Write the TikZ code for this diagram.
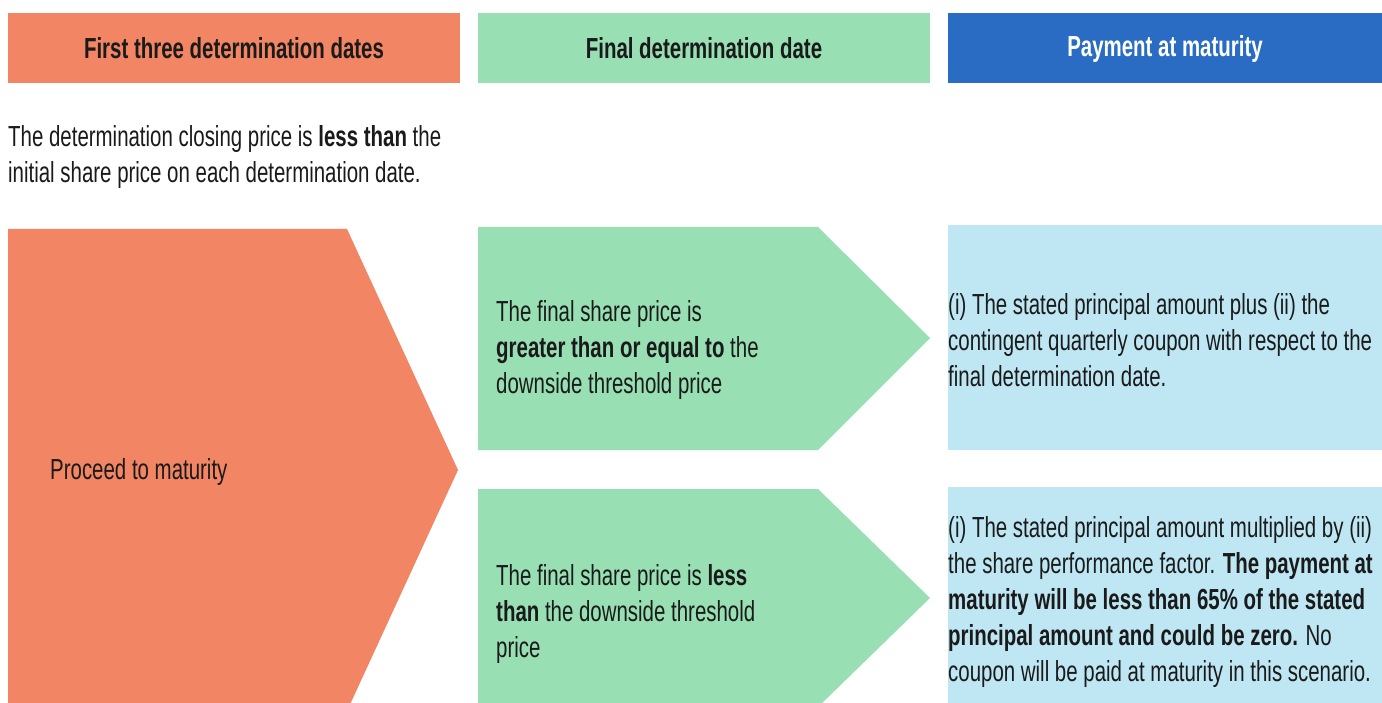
\documentclass[tikz,border=0pt]{standalone}
\usepackage{fontspec}
\setmainfont{Liberation Sans}[FakeStretch=0.705]
\definecolor{orangeC}{HTML}{F18564}
\definecolor{greenC}{HTML}{98E0B4}
\definecolor{blueC}{HTML}{2A6CC4}
\definecolor{lightC}{HTML}{BEE7F3}
\definecolor{inkC}{HTML}{1A1A1A}
\tikzset{
  hdr/.style={font=\fontsize{29}{32}\selectfont\bfseries, text=inkC, inner sep=0pt, anchor=center},
  bodytxt/.style={font=\fontsize{29}{36}\selectfont, text=inkC, inner sep=0pt, anchor=west, align=left},
}
\begin{document}
\begin{tikzpicture}[x=1pt,y=-1pt]
\useasboundingbox (0,0) rectangle (1382,703);
\fill[white] (0,0) rectangle (1382,703);
\clip (0,0) rectangle (1382,703);
% headers
\fill[orangeC] (8,13) rectangle (460,83);
\fill[greenC] (478,13) rectangle (930,83);
\fill[blueC] (948,13) rectangle (1382,83);
\node[hdr] (h1) at (234,48) {First three determination dates};
\node[hdr] (h2) at (704,48) {Final determination date};
\node[hdr, text=white] (h3) at (1165,49) {Payment at maturity};
% intro text
\node[bodytxt] (intro) at (8,157) {The determination closing price is \textbf{less than} the\\initial share price on each determination date.};
% orange chevron
\fill[orangeC] (8,229) -- (347,229) -- (458,470) -- (347,711) -- (8,711) -- cycle;
\node[bodytxt] (proceed) at (50,472) {Proceed to maturity};
% green chevrons
\fill[greenC] (478,227) -- (818,227) -- (930,338) -- (818,450) -- (478,450) -- cycle;
\fill[greenC] (478,489) -- (818,489) -- (930,598) -- (818,707) -- (478,707) -- cycle;
\node[bodytxt] (g1) at (496,350) {The final share price is\\\textbf{greater than or equal to} the\\downside threshold price};
\node[bodytxt] (g2) at (496,614) {The final share price is \textbf{less}\\\textbf{than} the downside threshold\\price};
% blue boxes
\fill[lightC] (948,225) rectangle (1382,450);
\fill[lightC] (948,487) rectangle (1382,703);
\node[bodytxt] (b1) at (948,340) {(i) The stated principal amount plus (ii) the\\contingent quarterly coupon with respect to the\\final determination date.};
\node[bodytxt] (b2) at (948,602) {(i) The stated principal amount multiplied by (ii)\\the share performance factor. \textbf{The payment at}\\\textbf{maturity will be less than 65\% of the stated}\\\textbf{principal amount and could be zero.} No\\coupon will be paid at maturity in this scenario.};
\end{tikzpicture}
\end{document}
